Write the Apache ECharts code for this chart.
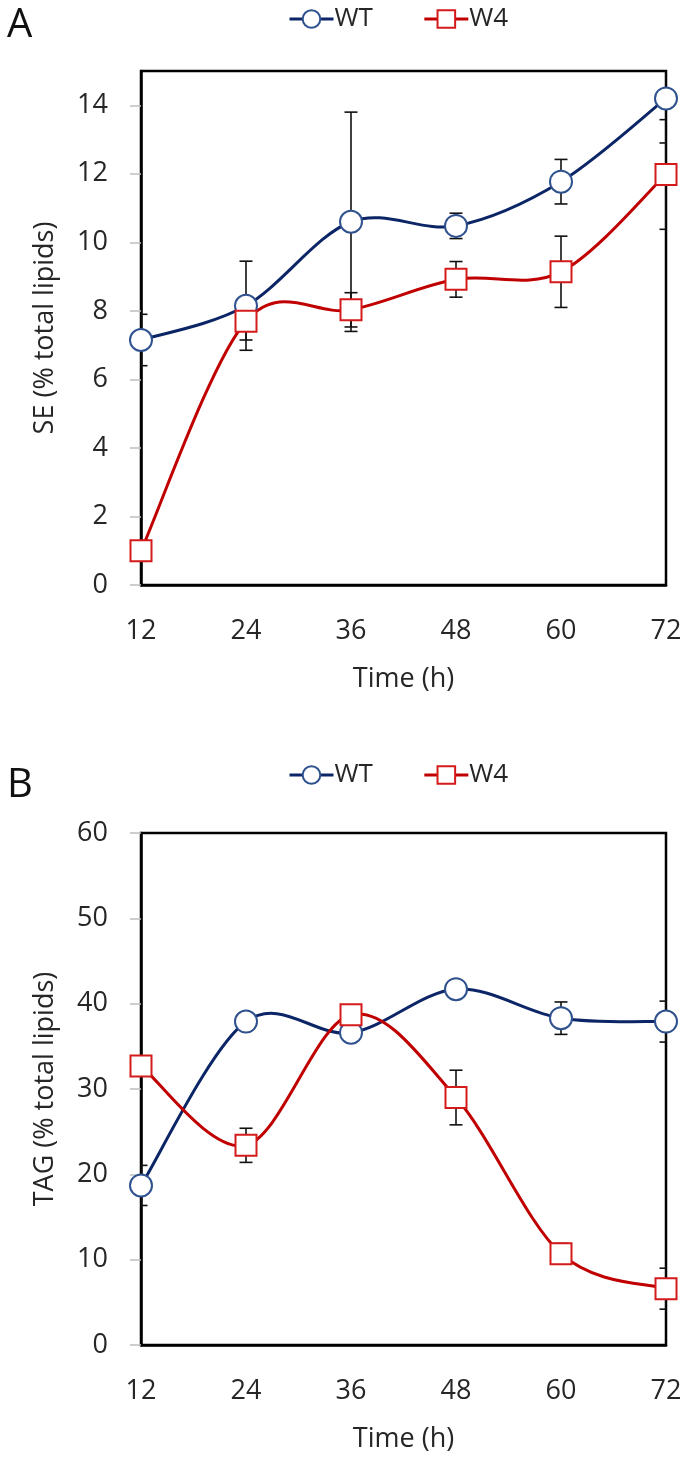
<!DOCTYPE html>
<html>
<head>
<meta charset="utf-8">
<script src="https://cdn.jsdelivr.net/npm/echarts@6/dist/echarts.min.js"></script>
<style>
html,body{margin:0;padding:0;background:#fff;}
#chart{width:685px;height:1459px;}
</style>
</head>
<body>
<div id="chart"></div>
<script>
// ---- data ----
const times = [12, 24, 36, 48, 60, 72];
const xTicks = [12, 24, 36, 48, 60, 72];
const seTicks = [0, 2, 4, 6, 8, 10, 12, 14];
const tagTicks = [0, 10, 20, 30, 40, 50, 60];

const seWT = [7.15, 8.15, 10.6, 10.48, 11.77, 14.2];
const seWTErr = [0.75, 1.3, 3.2, 0.37, 0.65, 1.3];
const seW4 = [1.0, 7.7, 8.03, 8.92, 9.14, 11.98];
const seW4Err = [0.3, 0.55, 0.5, 0.52, 1.04, 1.6];

const tagWT = [18.7, 37.9, 36.6, 41.7, 38.3, 37.9];
const tagWTErr = [2.35, 0.8, 0.8, 0.6, 1.9, 2.4];
const tagW4 = [32.7, 23.4, 38.7, 29.0, 10.7, 6.6];
const tagW4Err = [0.8, 2.0, 1.0, 3.2, 1.2, 2.4];

// ---- styles ----
const FONT = 'Open Sans';
const FS = 27;
const TXT = '#262626';
const NAVY = '#0B2566';
const NAVY_MK = '#2F528F';
const RED = '#C00000';
const RED_MK = '#D41A1A';

const chart = echarts.init(document.getElementById('chart'), null, {renderer: 'canvas'});

function pts(vals) { return times.map((t, i) => [t, vals[i]]); }
function errPts(vals, errs) { return times.map((t, i) => [t, vals[i] - errs[i], vals[i] + errs[i]]); }

function errSeries(name, vals, errs, idx) {
  return {
    type: 'custom',
    name: name + ' err',
    xAxisIndex: idx, yAxisIndex: idx,
    data: errPts(vals, errs),
    encode: {x: 0, y: [1, 2]},
    clip: true,
    z: 1,
    silent: true,
    renderItem: function (params, api) {
      const x = api.value(0);
      const lo = api.coord([x, api.value(1)]);
      const hi = api.coord([x, api.value(2)]);
      const w = 6.5;
      const st = {stroke: '#111', lineWidth: 1.6};
      return {
        type: 'group',
        children: [
          {type: 'line', shape: {x1: lo[0], y1: lo[1], x2: hi[0], y2: hi[1]}, style: st},
          {type: 'line', shape: {x1: lo[0] - w, y1: lo[1], x2: lo[0] + w, y2: lo[1]}, style: st},
          {type: 'line', shape: {x1: hi[0] - w, y1: hi[1], x2: hi[0] + w, y2: hi[1]}, style: st}
        ]
      };
    }
  };
}

// Excel-style smoothed line (Catmull-Rom through the data points, via the axes' scales)
function curveSeries(name, vals, idx, color, z) {
  const n = times.length;
  return {
    type: 'custom',
    name: name + ' curve',
    xAxisIndex: idx, yAxisIndex: idx,
    data: pts(vals),
    encode: {x: 0, y: 1},
    clip: false,
    silent: true,
    z: z,
    renderItem: function (params, api) {
      const i = params.dataIndex;
      if (i >= n - 1) return null;
      const c = k => api.coord([times[k], vals[k]]);
      const p0 = c(Math.max(i - 1, 0)), p1 = c(i), p2 = c(i + 1), p3 = c(Math.min(i + 2, n - 1));
      return {
        type: 'bezierCurve',
        shape: {
          x1: p1[0], y1: p1[1], x2: p2[0], y2: p2[1],
          cpx1: p1[0] + (p2[0] - p0[0]) / 6, cpy1: p1[1] + (p2[1] - p0[1]) / 6,
          cpx2: p2[0] - (p3[0] - p1[0]) / 6, cpy2: p2[1] - (p3[1] - p1[1]) / 6
        },
        style: {stroke: color, lineWidth: 3, fill: null}
      };
    }
  };
}

function markerSeries(name, vals, idx, isWT) {
  return {
    type: 'line',
    name: name,
    xAxisIndex: idx, yAxisIndex: idx,
    data: pts(vals),
    clip: false,
    symbol: isWT ? 'circle' : 'rect',
    symbolSize: isWT ? 22 : 21,
    lineStyle: {color: isWT ? NAVY : RED, width: 3, opacity: 0},
    itemStyle: {color: '#fff', borderColor: isWT ? NAVY_MK : RED_MK, borderWidth: 2},
    z: isWT ? 4 : 6
  };
}

function xAxis(idx) {
  return {
    type: 'value', gridIndex: idx, min: 12, max: 72,
    name: 'Time (h)', nameLocation: 'middle', nameGap: 81,
    nameTextStyle: {fontFamily: FONT, fontSize: FS, color: TXT},
    axisLine: {show: true, lineStyle: {color: '#000', width: 2.5}},
    axisTick: {show: false},
    splitLine: {show: false},
    axisLabel: {customValues: xTicks, margin: 33, fontFamily: FONT, fontSize: FS, color: TXT}
  };
}

function yAxis(idx, name, max, ticks) {
  return {
    type: 'value', gridIndex: idx, min: 0, max: max,
    name: name, nameLocation: 'middle', nameGap: 82, nameRotate: 90,
    nameTextStyle: {fontFamily: FONT, fontSize: FS, color: TXT},
    axisLine: {show: true, lineStyle: {color: '#000', width: 2.5}},
    axisTick: {show: true, customValues: ticks, length: 11, lineStyle: {color: '#BFBFBF', width: 1.5}},
    splitLine: {show: false},
    axisLabel: {customValues: ticks, margin: 33, fontFamily: FONT, fontSize: FS, color: TXT}
  };
}

function legend(top) {
  return {
    top: top, left: 283,
    itemWidth: 44, itemHeight: 22, itemGap: 50,
    data: ['WT', 'W4'],
    lineStyle: {width: 3, opacity: 1},
    textStyle: {fontFamily: FONT, fontSize: 26, color: TXT, padding: [0, 0, 0, -4]},
    selectedMode: false
  };
}

const option = {
  animation: false,
  backgroundColor: '#fff',
  textStyle: {fontFamily: FONT},
  graphic: [
    {type: 'text', left: 7, top: 6, style: {text: 'A', fontFamily: FONT, fontSize: 40, fill: '#111'}},
    {type: 'text', left: 7, top: 766, style: {text: 'B', fontFamily: FONT, fontSize: 40, fill: '#111'}}
  ],
  legend: [legend(1), legend(757)],
  grid: [
    {left: 141, right: 19, top: 71, height: 514, show: true, borderColor: '#000', borderWidth: 2.5, backgroundColor: 'transparent'},
    {left: 141, right: 19, top: 833, height: 512, show: true, borderColor: '#000', borderWidth: 2.5, backgroundColor: 'transparent'}
  ],
  xAxis: [xAxis(0), xAxis(1)],
  yAxis: [yAxis(0, 'SE (% total lipids)', 15, seTicks), yAxis(1, 'TAG (% total lipids)', 60, tagTicks)],
  series: [
    errSeries('WT', seWT, seWTErr, 0),
    errSeries('W4', seW4, seW4Err, 0),
    curveSeries('WT', seWT, 0, NAVY, 2),
    curveSeries('W4', seW4, 0, RED, 3),
    markerSeries('WT', seWT, 0, true),
    markerSeries('W4', seW4, 0, false),
    errSeries('WT', tagWT, tagWTErr, 1),
    errSeries('W4', tagW4, tagW4Err, 1),
    curveSeries('WT', tagWT, 1, NAVY, 2),
    curveSeries('W4', tagW4, 1, RED, 3),
    markerSeries('WT', tagWT, 1, true),
    markerSeries('W4', tagW4, 1, false)
  ]
};
chart.setOption(option);
</script>
</body>
</html>
